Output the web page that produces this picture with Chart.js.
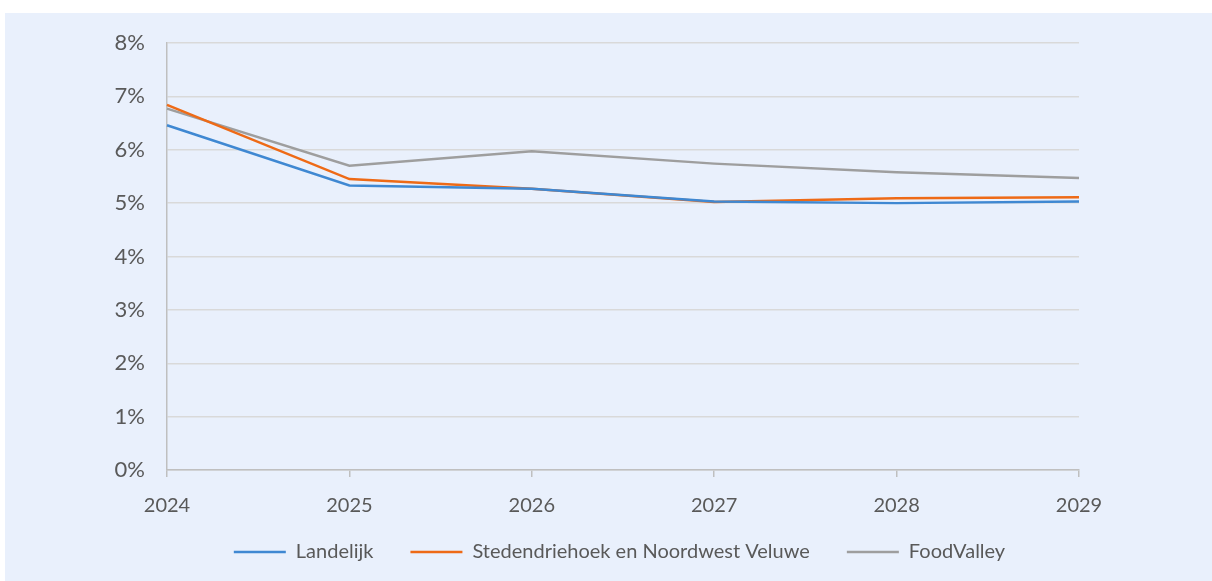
<!DOCTYPE html>
<html><head><meta charset="utf-8">
<script src="https://cdn.jsdelivr.net/npm/chart.js@4.4.1/dist/chart.umd.min.js"></script>
<style>
html,body{margin:0;padding:0;background:#fff;width:1212px;height:581px;overflow:hidden;}
#wrap{position:absolute;left:5px;top:13px;width:1207px;height:568px;background:#E9F0FC;}
canvas{display:block;}
</style></head>
<body>
<div id="wrap"><canvas id="c" width="1207" height="568"></canvas></div>
<script>
const categories = ['2024','2025','2026','2027','2028','2029'];
const landelijk = [6.46, 5.33, 5.27, 5.03, 5.00, 5.03];
const stedendriehoek = [6.84, 5.45, 5.27, 5.02, 5.09, 5.11];
const foodValley = [6.77, 5.70, 5.97, 5.74, 5.58, 5.47];
const seriesNames = ['Landelijk', 'Stedendriehoek en Noordwest Veluwe', 'FoodValley'];
const yTicks = [0,1,2,3,4,5,6,7,8];

const colors = ['#3F88D2', '#EE6A16', '#9E9E9E'];
const series = [landelijk, stedendriehoek, foodValley];

new Chart(document.getElementById('c'), {
  type: 'line',
  data: {
    labels: categories,
    datasets: series.map((d, i) => ({
      label: seriesNames[i],
      data: d,
      borderColor: colors[i],
      backgroundColor: colors[i],
      borderWidth: 2.5,
      pointRadius: 0,
      tension: 0,
      fill: false
    }))
  },
  options: {
    responsive: false,
    animation: false,
    layout: { padding: { left: 22, right: 0, top: 30, bottom: 9 } },
    plugins: {
      tooltip: { enabled: false },
      legend: {
        position: 'bottom',
        labels: {
          usePointStyle: true,
          pointStyle: 'line',
          pointStyleWidth: 52,
          boxHeight: 20,
          padding: 37,
          color: '#595959',
          font: { family: 'Lato', size: 20 }
        }
      }
    },
    scales: {
      x: {
        offset: false,
        afterFit: s => {
          s.height = 35; s.paddingLeft = 0; s.paddingRight = 0;
          s._computeLabelArea = () => undefined;
        },
        grid: { display: true, drawOnChartArea: false, drawTicks: true, tickLength: 7, color: '#BFBFBF', lineWidth: 1.5 },
        border: { display: true, color: '#BFBFBF', width: 1.5 },
        ticks: { color: '#595959', font: { family: 'Lato', size: 20 }, padding: 17, maxRotation: 0 }
      },
      y: {
        min: 0, max: 8,
        afterFit: s => { s.width = 140; s.paddingTop = 0; s.paddingBottom = 0; },
        afterBuildTicks: s => { s.ticks = yTicks.map(v => ({ value: v })); },
        grid: { color: '#D9D9D9', lineWidth: 1.5, drawTicks: false },
        border: { display: true, color: '#BFBFBF', width: 1.5 },
        ticks: { color: '#595959', font: { family: 'Lato', size: 22 }, padding: 22, callback: v => v + '%' }
      },
      yRightSpace: {
        position: 'right',
        min: 0, max: 8,
        afterFit: s => { s.width = 133; s.paddingTop = 0; s.paddingBottom = 0; },
        grid: { display: false },
        border: { display: false },
        ticks: { display: false }
      }
    }
  }
});
</script>
</body></html>
